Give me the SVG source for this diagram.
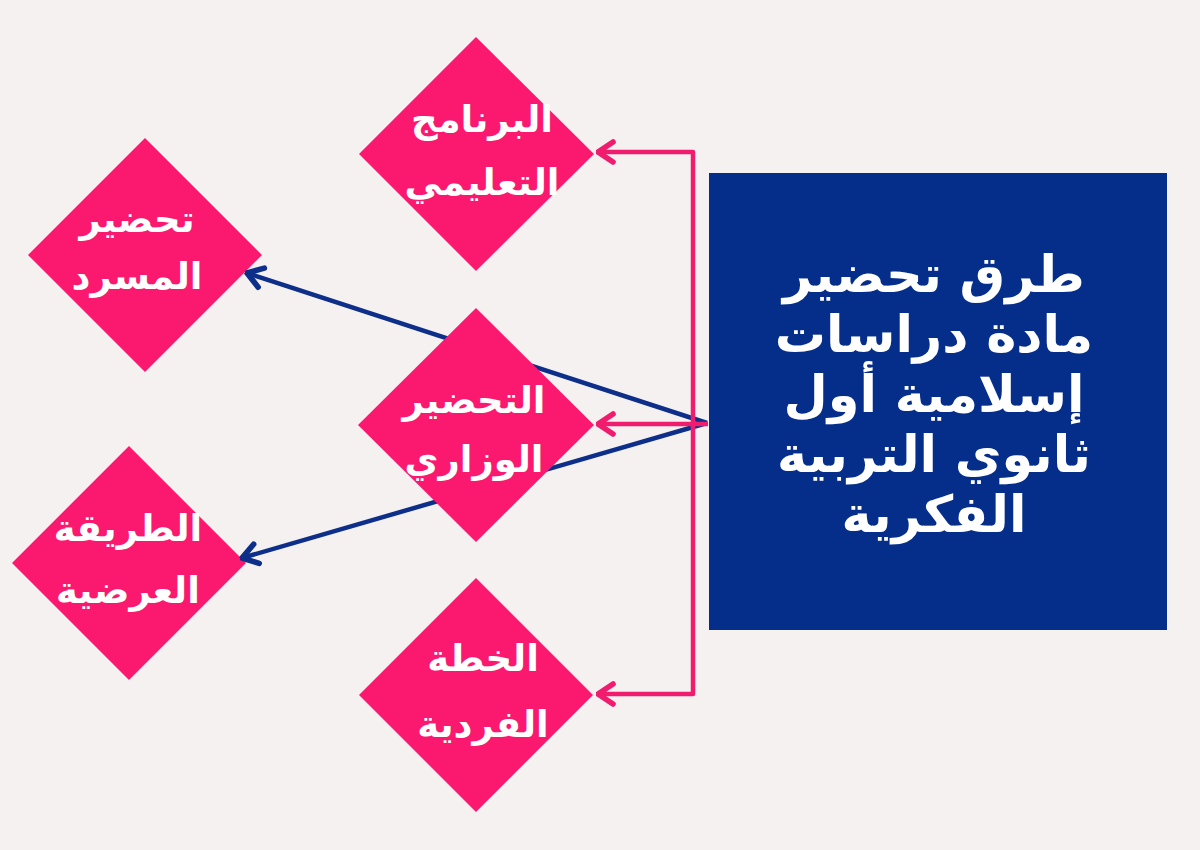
<svg xmlns="http://www.w3.org/2000/svg" width="1200" height="850" viewBox="0 0 1200 850">
  <style>
    .dia { fill: #fb196f; }
    .lbl { fill: #ffffff; font-family: "DejaVu Sans", sans-serif; font-weight: bold; font-size: 37px; text-anchor: middle; direction: rtl; }
    .title { fill: #ffffff; font-family: "DejaVu Sans", sans-serif; font-weight: bold; font-size: 51px; text-anchor: middle; direction: rtl; }
    .pink { stroke: #f01c6d; stroke-width: 4.5; fill: none; stroke-linejoin: round; }
    .blue { stroke: #0d2f8a; stroke-width: 4.5; fill: none; }
  </style>
  <defs>
    <marker id="ahPink" markerUnits="userSpaceOnUse" markerWidth="30" markerHeight="30" refX="22" refY="12" viewBox="0 0 24 24" orient="auto">
      <path d="M10,4 L22,12 L10,20" fill="none" stroke="#f01c6d" stroke-width="4.5" stroke-linecap="round" stroke-linejoin="round"/>
    </marker>
    <marker id="ahBlue" markerUnits="userSpaceOnUse" markerWidth="30" markerHeight="30" refX="22" refY="12" viewBox="0 0 24 24" orient="auto">
      <path d="M10,4 L22,12 L10,20" fill="none" stroke="#0d2f8a" stroke-width="4.5" stroke-linecap="round" stroke-linejoin="round"/>
    </marker>
  </defs>
  <rect x="0" y="0" width="1200" height="850" fill="#f5f1f1"/>

  <g id="node-glossary">
    <polygon class="dia" points="145,138 262,255 145,372 28,255"/>
    <text class="lbl" x="137" y="232">تحضير</text>
    <text class="lbl" x="137" y="289">المسرد</text>
  </g>

  <g id="node-presentation">
    <polygon class="dia" points="129,446 246,563 129,680 12,563"/>
    <text class="lbl" x="128" y="541">الطريقة</text>
    <text class="lbl" x="128" y="603">العرضية</text>
  </g>

  <g id="connectors">
    <path class="blue" d="M707,423 L247,273" marker-end="url(#ahBlue)"/>
    <path class="blue" d="M707,423 L242,558" marker-end="url(#ahBlue)"/>
  </g>

  <g id="node-center">
    <polygon class="dia" points="476,308 594,425 476,542 358,425"/>
    <text class="lbl" x="474" y="413">التحضير</text>
    <text class="lbl" x="474" y="472">الوزاري</text>
  </g>

  <g id="connectors-pink">
    <path class="pink" d="M693,424 V152 H598" marker-end="url(#ahPink)"/>
    <path class="pink" d="M708,424 H598" marker-end="url(#ahPink)"/>
    <path class="pink" d="M693,424 V694 H598" marker-end="url(#ahPink)"/>
  </g>

  <g id="node-program">
    <polygon class="dia" points="476,37 594,154 476,271 359,154"/>
    <text class="lbl" x="482" y="132">البرنامج</text>
    <text class="lbl" x="482" y="195">التعليمي</text>
  </g>

  <g id="node-plan">
    <polygon class="dia" points="476,578 593,695 476,812 359,695"/>
    <text class="lbl" x="483" y="671">الخطة</text>
    <text class="lbl" x="483" y="737">الفردية</text>
  </g>

  <g id="node-title">
    <rect x="709" y="173" width="458" height="457" fill="#052e8b"/>
    <text class="title" x="934" y="292">طرق تحضير</text>
    <text class="title" x="934" y="352">مادة دراسات</text>
    <text class="title" x="934" y="412">إسلامية أول</text>
    <text class="title" x="934" y="472">ثانوي التربية</text>
    <text class="title" x="934" y="532">الفكرية</text>
  </g>
</svg>
